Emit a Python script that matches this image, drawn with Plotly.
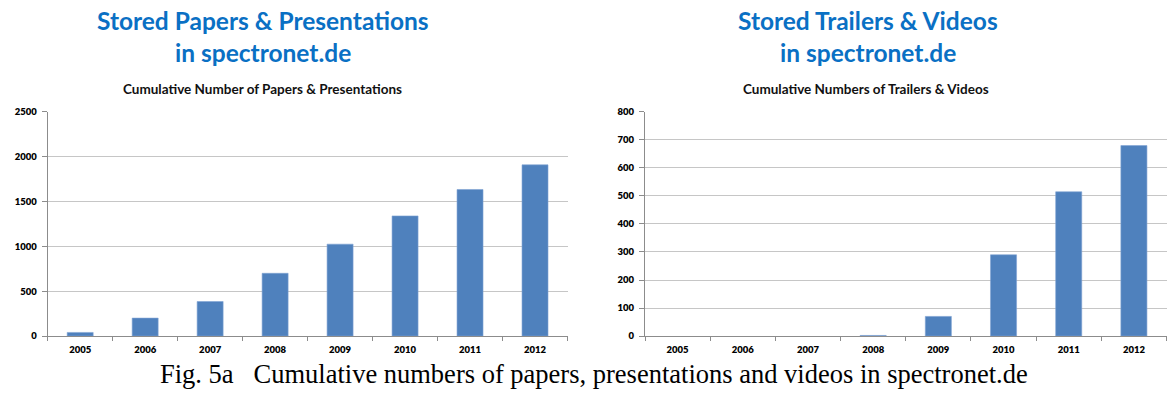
import plotly.graph_objects as go

years = ["2005", "2006", "2007", "2008", "2009", "2010", "2011", "2012"]
papers = [40, 200, 385, 700, 1025, 1340, 1635, 1910]
videos = [0, 0, 0, 2, 70, 290, 515, 680]

left_ticks = [0, 500, 1000, 1500, 2000, 2500]
right_ticks = [0, 100, 200, 300, 400, 500, 600, 700, 800]

BAR = "#4F81BD"
BLUE = "#0A70C4"
W, H = 1167, 394

def edge(vals):
    return [0.6 if v > 0 else 0 for v in vals]

fig = go.Figure()
fig.add_trace(go.Bar(x=years, y=papers,
                     marker=dict(color=BAR, line=dict(color="#7FA3D3", width=edge(papers))),
                     width=0.4, xaxis="x", yaxis="y", showlegend=False))
fig.add_trace(go.Bar(x=years, y=videos,
                     marker=dict(color=BAR, line=dict(color="#7FA3D3", width=edge(videos))),
                     width=0.4, xaxis="x2", yaxis="y2", showlegend=False))

tickfont = dict(family="Lato, Open Sans, sans-serif", size=9.5, color="#000000", weight=800)
ydom = [(394 - 339.5) / H, (394 - 109) / H]

xcommon = dict(type="category", showgrid=False, showline=True, linecolor="#8c8c8c", linewidth=1,
               ticks="outside", tickson="boundaries", ticklen=4, tickcolor="#8c8c8c",
               tickfont=tickfont, ticklabelstandoff=5, fixedrange=True)
ycommon = dict(showgrid=True, gridcolor="#c6c6c6", gridwidth=1, showline=True, linecolor="#8c8c8c",
               linewidth=1, ticks="outside", ticklen=5, tickcolor="#8c8c8c", tickfont=tickfont,
               zeroline=False, ticklabelstandoff=3, domain=ydom)

fig.update_layout(
    width=W, height=H,
    margin=dict(l=0, r=0, t=0, b=0),
    paper_bgcolor="white", plot_bgcolor="white",
    bargap=0.6,
    xaxis=dict(domain=[47.7 / W, 567.5 / W], anchor="y", **xcommon),
    yaxis=dict(anchor="x", range=[0, 2500], tickvals=left_ticks, **ycommon),
    xaxis2=dict(domain=[645 / W, 1166.5 / W], anchor="y2", **xcommon),
    yaxis2=dict(anchor="x2", range=[0, 800], tickvals=right_ticks, **ycommon),
)

title_font = dict(family="Lato, Open Sans, sans-serif", size=24.5, color=BLUE)
sub_font = dict(family="Lato, Open Sans, sans-serif", size=13.5, color="#111111")

def ann(text, x, y, font):
    fig.add_annotation(text=text, x=x / W, y=1 - y / H, xref="paper", yref="paper",
                       showarrow=False, font=font, xanchor="center", yanchor="middle")

ann("<b>Stored Papers &amp; Presentations</b>", 263, 15, title_font)
ann("<b>in spectronet.de</b>", 263, 48, title_font)
ann("<b>Cumulative Number of Papers &amp; Presentations</b>", 262, 85, sub_font)
ann("<b>Stored Trailers &amp; Videos</b>", 868, 15, title_font)
ann("<b>in spectronet.de</b>", 868, 48, title_font)
ann("<b>Cumulative Numbers of Trailers &amp; Videos</b>", 866, 85, sub_font)
ann("Fig. 5a   Cumulative numbers of papers, presentations and videos in spectronet.de", 594, 379,
    dict(family="Liberation Serif, Times New Roman, serif", size=26.5, color="#000000"))

fig.write_html("out.html")
